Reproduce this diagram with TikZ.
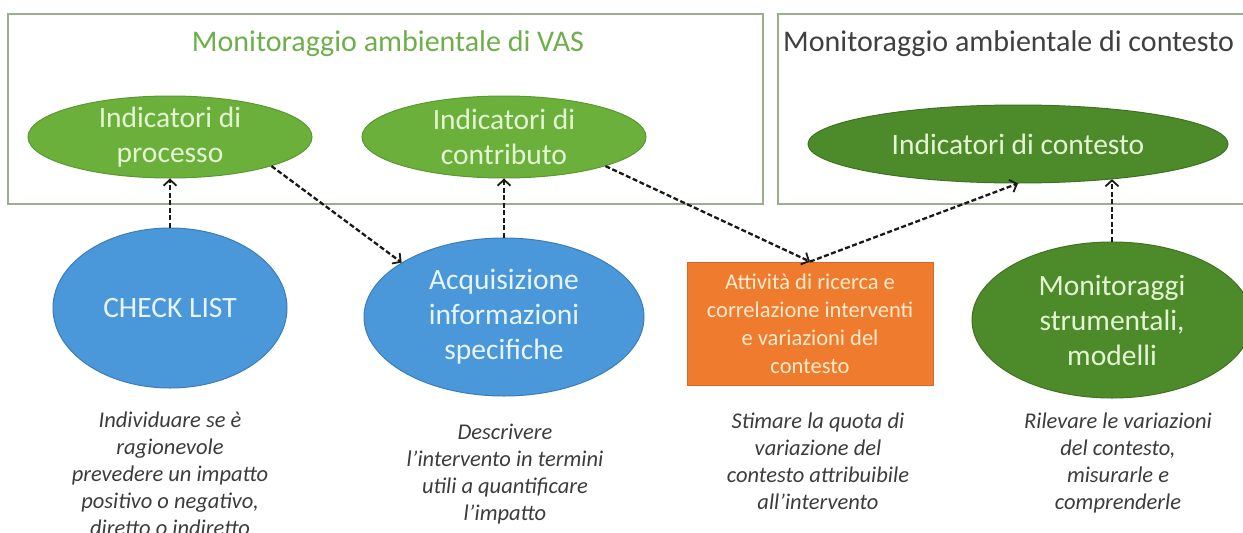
\documentclass[tikz,border=0pt]{standalone}
\usepackage{fontspec}
\setmainfont{Carlito}
\usetikzlibrary{shapes.geometric,arrows.meta}
\definecolor{boxline}{HTML}{9AAE90}
\definecolor{ltgreen}{HTML}{6CB03C}
\definecolor{ltgreenline}{HTML}{5A9832}
\definecolor{dkgreen}{HTML}{4C8A2A}
\definecolor{dkgreenline}{HTML}{3F7323}
\definecolor{blu}{HTML}{4A97DA}
\definecolor{bluline}{HTML}{3C7DB8}
\definecolor{orng}{HTML}{EE7B2E}
\definecolor{orngline}{HTML}{D8692A}
\definecolor{titlegreen}{HTML}{6FAF4B}
\definecolor{titlegray}{HTML}{404040}
\definecolor{desctext}{HTML}{3C3C3C}
\definecolor{palegreen}{HTML}{E4F5D4}
\definecolor{paleblue}{HTML}{E8F5FF}
\definecolor{paleorange}{HTML}{FFEBCB}
\tikzset{
  frame/.style={draw=boxline, line width=1.6pt},
  ttl/.style={inner sep=0pt, font=\fontsize{30}{36}\selectfont},
  ell/.style={ellipse, inner sep=0pt, line width=1pt},
  big/.style={align=center, inner sep=0pt, font=\fontsize{29.5}{35}\selectfont},
  small/.style={align=center, inner sep=0pt, font=\fontsize{22.5}{28}\selectfont},
  desc/.style={align=center, inner sep=0pt, anchor=north, text=desctext, font=\itshape\fontsize{22.5}{27}\selectfont},
  conn/.style={draw=black!90, line width=2.3pt, dash pattern=on 5pt off 2.5pt,
    -{Straight Barb[length=6pt,width=13pt,line width=1.8pt]}}
}
\begin{document}
\begin{tikzpicture}[x=1pt,y=-1pt]
\clip (0,0) rectangle (1243,533);
\fill[white] (0,0) rectangle (1243,533);
% frames
\draw[frame] (8,14) rectangle (763,204);
\draw[frame] (778,14) rectangle (1260,204);
\node[ttl, text=titlegreen, anchor=base] (t1) at (388,51) {Monitoraggio ambientale di VAS};
\node[ttl, text=titlegray, anchor=base west] (t2) at (783,51) {Monitoraggio ambientale di contesto};
% top ellipses
\node[ell, fill=ltgreen, draw=ltgreenline, minimum width=284pt, minimum height=82pt,
  label={[big, text=palegreen]center:{Indicatori di\\processo}}] (proc) at (170,137) {};
\node[ell, fill=ltgreen, draw=ltgreenline, minimum width=284pt, minimum height=82pt,
  label={[big, text=palegreen]center:{Indicatori di\\contributo}}] (contrib) at (504,137) {};
\node[ell, fill=dkgreen, draw=dkgreenline, minimum width=420pt, minimum height=78pt,
  label={[big, text=palegreen]center:{Indicatori di contesto}}] (ctx) at (1018,144) {};
% bottom shapes
\node[ell, fill=blu, draw=bluline, minimum width=234pt, minimum height=160pt,
  label={[big, text=paleblue]center:{CHECK LIST}}] (chk) at (170,308) {};
\node[ell, fill=blu, draw=bluline, minimum width=280pt, minimum height=158pt,
  label={[big, text=paleblue]center:{Acquisizione\\informazioni\\specifiche}}] (acq) at (504,317) {};
\node[draw=orngline, fill=orng, line width=0.8pt, minimum width=246pt, minimum height=123pt,
  small, text=paleorange] (act) at (810,323.5)
  {Attività di ricerca e\\correlazione interventi\\e variazioni del\\contesto};
\node[ell, fill=dkgreen, draw=dkgreenline, minimum width=280pt, minimum height=156pt,
  label={[big, text=palegreen]center:{Monitoraggi\\strumentali,\\modelli}}] (mon) at (1112,320) {};
% descriptions
\node[desc] (d1) at (170,412) {Individuare se è\\ragionevole\\prevedere un impatto\\positivo o negativo,\\diretto o indiretto};
\node[desc] (d2) at (505,424) {Descrivere\\l’intervento in termini\\utili a quantificare\\l’impatto};
\node[desc] (d3) at (818,413) {Stimare la quota di\\variazione del\\contesto attribuibile\\all’intervento};
\node[desc] (d4) at (1118,413) {Rilevare le variazioni\\del contesto,\\misurarle e\\comprenderle};
% connectors
\draw[conn] (chk.north) -- (proc.south);
\draw[conn] (proc.-16) -- (acq.152);
\draw[conn] (acq.north) -- (contrib.south);
\draw[conn] (contrib.-16) -- (act.north);
\draw[conn] (act.north) -- (ctx.south);
\draw[conn] (mon.north) -- (mon.north |- ctx.-20.4);
\end{tikzpicture}
\end{document}
